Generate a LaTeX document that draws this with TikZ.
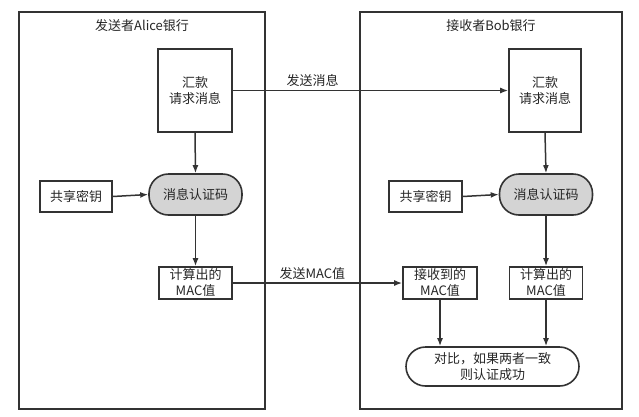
\documentclass[tikz,border=0pt]{standalone}
\usepackage{fontspec}
\newfontfamily\cjk{Noto Sans CJK SC}
\usetikzlibrary{arrows.meta}
\begin{document}
\begin{tikzpicture}[x=1pt,y=-1pt,
  every node/.style={font=\cjk\fontsize{13}{16}\selectfont, text=black!85, align=center, inner sep=0pt},
  frame/.style={draw=black!80, line width=1.6pt},
  box/.style={draw=black!80, line width=1.6pt, fill=white},
  stad/.style={draw=black!80, line width=1.6pt, rounded corners=19.5pt},
  arr/.style={draw=black!80, line width=1.5pt, -{Latex[length=8pt,width=6pt]}}]
\useasboundingbox (0,0) rectangle (639,416);
\fill[white] (0,0) rectangle (639,416);
% containers
\node[frame, minimum width=246pt, minimum height=397pt] (L) at (142,210.5) {};
\node[frame, minimum width=262pt, minimum height=397pt] (R) at (491,210.5) {};
\node (Lt) at (142,26) {发送者Alice银行};
\node (Rt) at (491,26) {接收者Bob银行};
% left side
\node[box, minimum width=74pt, minimum height=83pt] (lmsg) at (195,90.5) {汇款\\请求消息};
\node[box, minimum width=72pt, minimum height=31pt] (lkey) at (76,196.5) {共享密钥};
\node[stad, fill=black!17, minimum width=93pt, minimum height=41pt] (lmac) at (195.5,194.5) {消息认证码};
\node[box, minimum width=73pt, minimum height=32pt] (lcalc) at (195.5,283) {计算出的\\MAC值};
% right side
\node[box, minimum width=72pt, minimum height=83pt] (rmsg) at (545,90.5) {汇款\\请求消息};
\node[box, minimum width=73pt, minimum height=31pt] (rkey) at (425.5,196.5) {共享密钥};
\node[stad, fill=black!17, minimum width=93pt, minimum height=41pt] (rmac) at (546,194.5) {消息认证码};
\node[box, minimum width=74pt, minimum height=32pt] (rrecv) at (440,283) {接收到的\\MAC值};
\node[box, minimum width=73pt, minimum height=32pt] (rcalc) at (546,283) {计算出的\\MAC值};
\node[stad, fill=white, minimum width=173pt, minimum height=39pt] (cmp) at (492.5,366.5) {对比，如果两者一致\\则认证成功};
% connectors
\draw[arr] (lmsg.east) -- node[above=3pt, pos=0.29] (s1) {发送消息} (rmsg.west);
\draw[arr] (lcalc.east) -- node[above=3pt, pos=0.47] (s2) {发送MAC值} (rrecv.west);
\draw[arr] (lmsg.south) -- (lmac.north);
\draw[arr] (lkey.east) -- (lmac.west);
\draw[arr] (lmac.south) -- (lcalc.north);
\draw[arr] (rmsg.south) -- (rmac.north);
\draw[arr] (rkey.east) -- (rmac.west);
\draw[arr] (rmac.south) -- (rcalc.north);
\draw[arr] (rrecv.south) -- (rrecv.south |- cmp.north);
\draw[arr] (rcalc.south) -- (rcalc.south |- cmp.north);
\end{tikzpicture}
\end{document}
